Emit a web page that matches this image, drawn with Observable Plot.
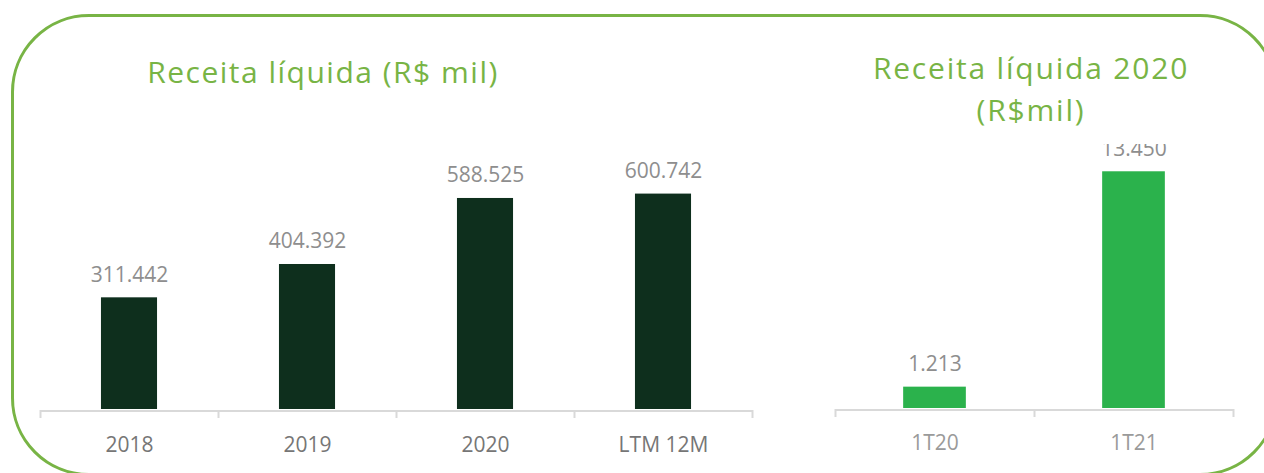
<!DOCTYPE html>
<html>
<head>
<meta charset="utf-8">
<script src="https://cdn.jsdelivr.net/npm/d3@7"></script>
<script src="https://cdn.jsdelivr.net/npm/@observablehq/plot@0.6"></script>
<style>
  html, body { margin: 0; padding: 0; background: #fff; width: 1264px; height: 473px; overflow: hidden; }
  body { position: relative; font-family: "Open Sans", sans-serif; }
  .title { position: absolute; color: #78b445; font-size: 30px; line-height: 42px; text-align: center; white-space: nowrap; letter-spacing: 1.5px; }
  .frame { position: absolute; left: 11px; top: 14px; width: 1267px; height: 462px; box-sizing: border-box;
           border: 3px solid #78b445; border-radius: 78px; pointer-events: none; }
  #left { position: absolute; left: 0; top: 0; }
  #right { position: absolute; left: 800px; top: 144px; width: 464px; height: 329px; overflow: hidden; }
</style>
</head>
<body>
<div class="title" style="left:0; width:646px; top:51px;">Receita líquida (R$ mil)</div>
<div class="title" style="left:831px; width:400px; top:47px; letter-spacing:1.8px;">Receita líquida 2020<br>(R$mil)</div>
<div id="left"></div>
<div id="right"></div>
<div class="frame"></div>
<script>
// ---- data ----
const leftCategories = ["2018", "2019", "2020", "LTM 12M"];
const leftValues = [311442, 404392, 588525, 600742];
const rightCategories = ["1T20", "1T21"];
const rightValues = [1213, 13450];

const ptBR = d3.formatLocale({decimal: ",", thousands: ".", grouping: [3], currency: ["R$", ""]});
const fmt = ptBR.format(",d");

function makeChart({cats, vals, width, height, marginLeft, marginRight, marginTop, marginBottom, yMax, barColor, tickColor, tickPadding}) {
  const data = cats.map((c, i) => ({cat: c, i, value: vals[i]}));
  const bw = 0.315;
  return Plot.plot({
    width, height, marginLeft, marginRight, marginTop, marginBottom,
    style: {fontFamily: "Open Sans", fontSize: "21px", background: "transparent", overflow: "visible"},
    x: {type: "linear", domain: [0, cats.length], axis: null},
    y: {domain: [0, yMax], axis: null},
    marks: [
      Plot.rectY(data, {x1: d => d.i + 0.5 - bw / 2, x2: d => d.i + 0.5 + bw / 2, y1: 0, y2: "value", fill: barColor}),
      Plot.ruleY([0], {stroke: "#d9d9d9", strokeWidth: 2, dy: 1.5}),
      Plot.axisX({ticks: d3.range(cats.length + 1), tickSize: 8, tickFormat: () => "", stroke: "#d9d9d9", strokeWidth: 2, strokeOpacity: 1, dy: 1}),
      Plot.axisX({ticks: data.map(d => d.i + 0.5), tickSize: 0, tickPadding, tickFormat: t => cats[Math.floor(t)], fontSize: 21, color: tickColor}),
      Plot.text(data, {x: d => d.i + 0.5, y: "value", text: d => fmt(d.value), dy: -16, lineAnchor: "bottom", fontSize: 21, fill: "#8e8e8e"})
    ]
  });
}

document.getElementById("left").append(makeChart({
  cats: leftCategories, vals: leftValues,
  width: 800, height: 473, marginLeft: 40, marginRight: 48, marginTop: 158, marginBottom: 64,
  yMax: 700000, barColor: "#0e2f1d", tickColor: "#767676", tickPadding: 28
}));

document.getElementById("right").append(makeChart({
  cats: rightCategories, vals: rightValues,
  width: 464, height: 329, marginLeft: 35, marginRight: 31, marginTop: 0, marginBottom: 65,
  yMax: 15000, barColor: "#2bb24c", tickColor: "#9a9a9a", tickPadding: 27
}));
</script>
</body>
</html>
